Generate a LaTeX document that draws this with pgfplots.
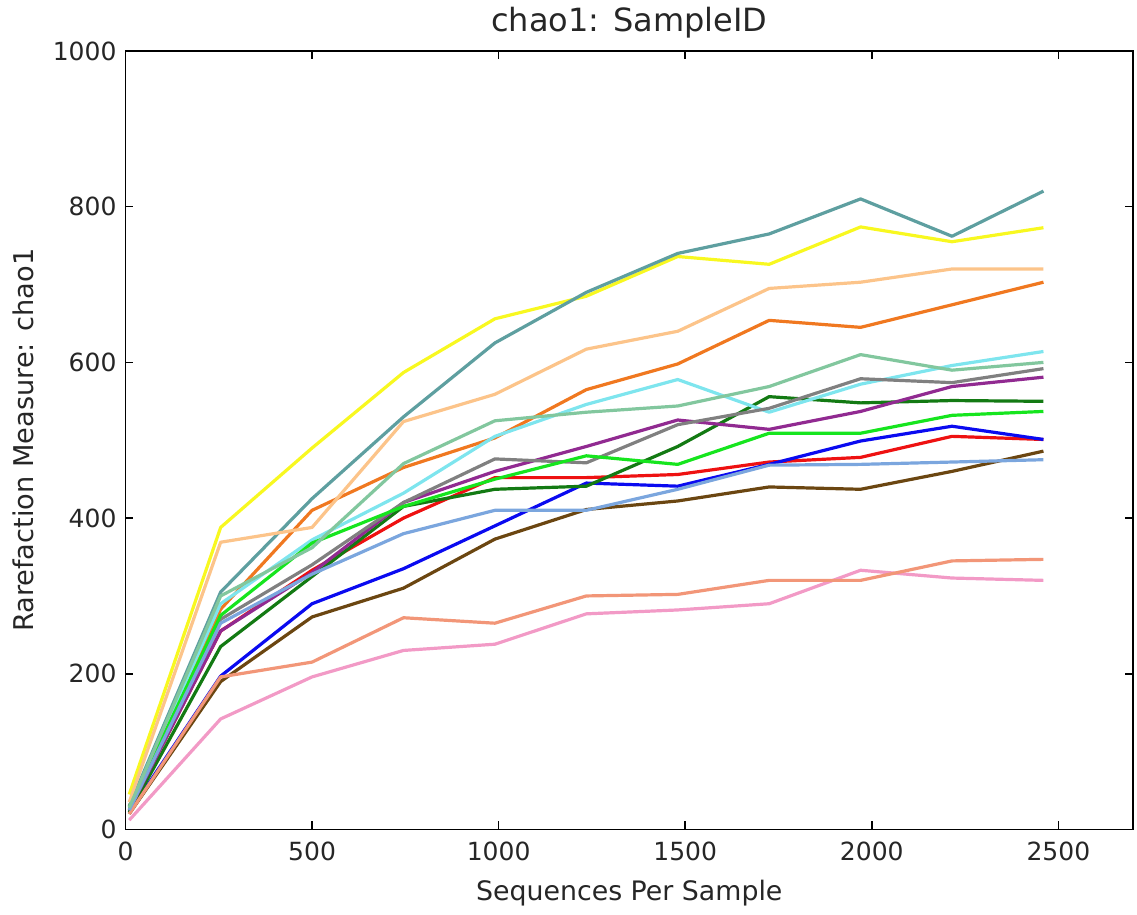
\documentclass[border=0pt]{standalone}
\usepackage{fontspec}
\setmainfont{DejaVu Sans}
\usepackage{pgfplots}
\pgfplotsset{compat=1.18}
\usetikzlibrary{calc}
\definecolor{cRedA}{HTML}{EE1111}
\definecolor{cBlueA}{HTML}{0A0AF0}
\definecolor{cOrangeA}{HTML}{F07820}
\definecolor{cGreenA}{HTML}{137A13}
\definecolor{cPurpleA}{HTML}{912A91}
\definecolor{cYellowA}{HTML}{F8F820}
\definecolor{cCyanA}{HTML}{7EE5EE}
\definecolor{cPinkA}{HTML}{F29AC6}
\definecolor{cTealA}{HTML}{5E9FA0}
\definecolor{cBrownA}{HTML}{6B4611}
\definecolor{cGrayA}{HTML}{808080}
\definecolor{cLime}{HTML}{16E51E}
\definecolor{cRedB}{HTML}{F29678}
\definecolor{cBlueB}{HTML}{7BA6DE}
\definecolor{cOrangeB}{HTML}{FCC48A}
\definecolor{cGreenB}{HTML}{82C79E}
\begin{document}
\begin{tikzpicture}
\begin{axis}[
  scale only axis,
  width=503.75pt, height=389.25pt,
  xmin=0, xmax=2700, ymin=0, ymax=1000,
  xtick={0,500,1000,1500,2000,2500},
  ytick={0,200,400,600,800,1000},
  tick align=inside, tick pos=both,
  major tick length=4pt,
  axis line style={line width=0.9pt},
  every tick/.style={black, line width=0.8pt},
  /pgf/number format/assume math mode=true,
  /pgf/number format/1000 sep={},
  tick label style={font=\fontsize{12.5}{14}\selectfont, text=black!85},
  xticklabel style={yshift=-2.5pt},
  yticklabel style={xshift=-1pt},
  title={chao1: SampleID},
  every axis title/.style={at={(axis description cs:0.5,1.0244)}, anchor=base, font=\fontsize{16}{18}\selectfont, text=black!85},
  xlabel={Sequences Per Sample},
  every axis x label/.style={at={(axis description cs:0.5,-0.0915)}, anchor=base, font=\fontsize{13.4}{15}\selectfont, text=black!85},
  ylabel={Rarefaction Measure: chao1},
  every axis y label/.style={at={(axis description cs:-0.0918,0.5)}, rotate=90, anchor=base, font=\fontsize{13.6}{15}\selectfont, text=black!85},
  every axis plot/.append style={line width=1.6pt, mark=none, line join=round},
]
\addplot[cRedA] coordinates {(10,25) (255,255) (500,333) (745,400) (990,452) (1235,452) (1480,456) (1725,472) (1970,478) (2215,505) (2460,501)};
\addplot[cBlueA] coordinates {(10,22) (255,197) (500,290) (745,335) (990,390) (1235,445) (1480,441) (1725,469) (1970,499) (2215,518) (2460,501)};
\addplot[cOrangeA] coordinates {(10,30) (255,283) (500,410) (745,465) (990,503) (1235,565) (1480,598) (1725,654) (1970,645) (2215,674) (2460,703)};
\addplot[cGreenA] coordinates {(10,22) (255,235) (500,325) (745,415) (990,437) (1235,441) (1480,492) (1725,556) (1970,548) (2215,551) (2460,550)};
\addplot[cPurpleA] coordinates {(10,25) (255,255) (500,330) (745,420) (990,460) (1235,492) (1480,526) (1725,514) (1970,537) (2215,569) (2460,581)};
\addplot[cYellowA] coordinates {(10,45) (255,388) (500,490) (745,587) (990,656) (1235,685) (1480,736) (1725,726) (1970,774) (2215,755) (2460,773)};
\addplot[cCyanA] coordinates {(10,28) (255,290) (500,372) (745,432) (990,505) (1235,546) (1480,578) (1725,536) (1970,572) (2215,596) (2460,614)};
\addplot[cPinkA] coordinates {(10,12) (255,142) (500,196) (745,230) (990,238) (1235,277) (1480,282) (1725,290) (1970,333) (2215,323) (2460,320)};
\addplot[cTealA] coordinates {(10,30) (255,305) (500,425) (745,530) (990,625) (1235,690) (1480,740) (1725,765) (1970,810) (2215,762) (2460,820)};
\addplot[cBrownA] coordinates {(10,20) (255,190) (500,273) (745,310) (990,373) (1235,411) (1480,422) (1725,440) (1970,437) (2215,460) (2460,486)};
\addplot[cGrayA] coordinates {(10,25) (255,270) (500,340) (745,420) (990,476) (1235,471) (1480,520) (1725,541) (1970,579) (2215,574) (2460,592)};
\addplot[cLime] coordinates {(10,28) (255,275) (500,368) (745,415) (990,450) (1235,480) (1480,469) (1725,509) (1970,509) (2215,532) (2460,537)};
\addplot[cRedB] coordinates {(10,20) (255,196) (500,215) (745,272) (990,265) (1235,300) (1480,302) (1725,320) (1970,320) (2215,345) (2460,347)};
\addplot[cBlueB] coordinates {(10,25) (255,265) (500,328) (745,380) (990,410) (1235,410) (1480,437) (1725,468) (1970,469) (2215,472) (2460,475)};
\addplot[cOrangeB] coordinates {(10,35) (255,369) (500,388) (745,524) (990,559) (1235,617) (1480,640) (1725,695) (1970,703) (2215,720) (2460,720)};
\addplot[cGreenB] coordinates {(10,28) (255,300) (500,362) (745,470) (990,525) (1235,536) (1480,544) (1725,569) (1970,610) (2215,590) (2460,600)};
\end{axis}
\pgfresetboundingbox
\path[use as bounding box] ($(current axis.south west)+(-62.75pt,-42.75pt)$) rectangle ($(current axis.north east)+(2pt,25.5pt)$);
\end{tikzpicture}
\end{document}
